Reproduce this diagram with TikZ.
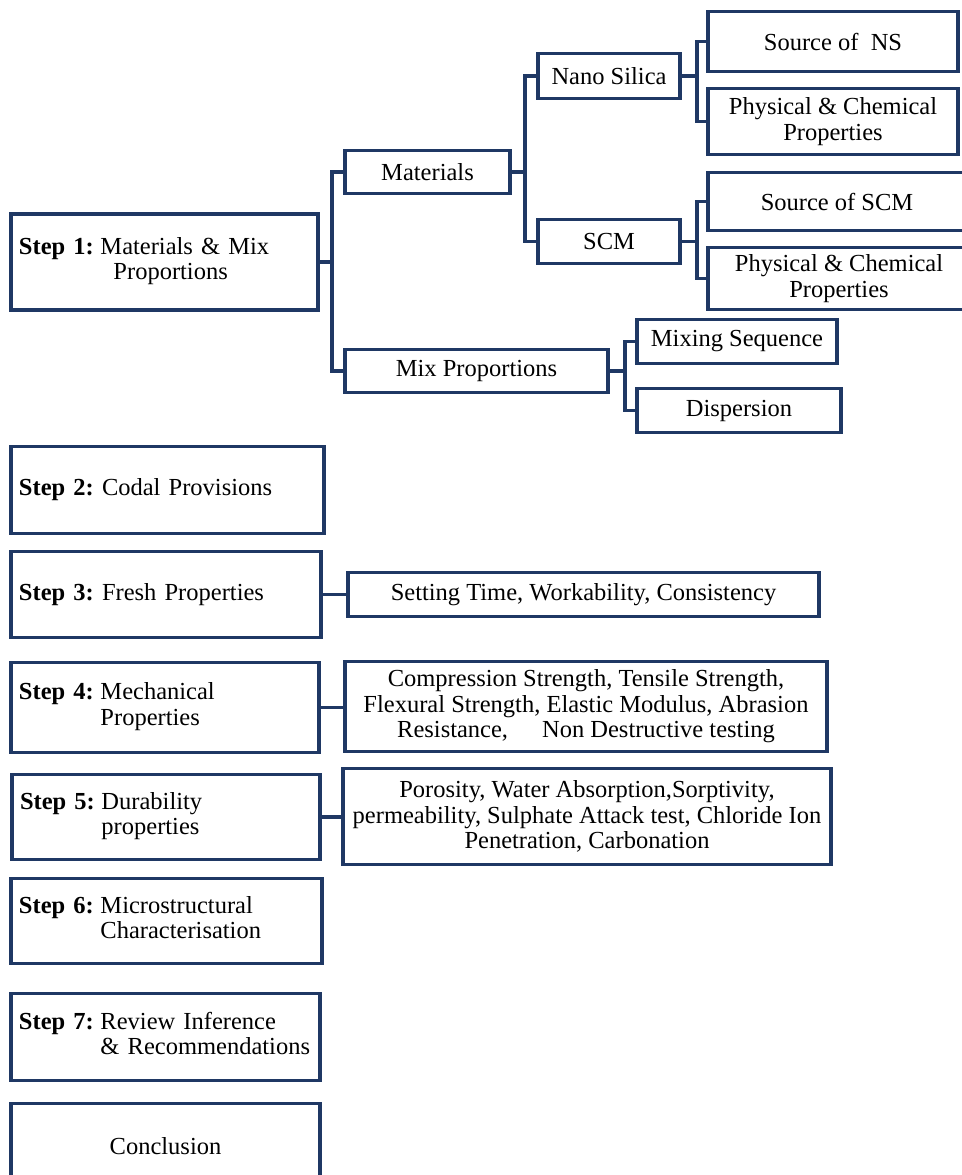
\documentclass[tikz,border=0pt]{standalone}
\usepackage{fontspec}
\setmainfont{Liberation Serif}
\usetikzlibrary{positioning}

\definecolor{boxblue}{HTML}{1F3864}
\tikzset{
  box/.style={draw=boxblue, line width=3.5pt, rectangle, align=center, inner sep=2pt},
  stepbox/.style={box, align=left, inner xsep=8pt},
  link/.style={draw=boxblue, line width=3.5pt},
}
\newcommand{\steplabel}[3]{\begin{tabular}{@{}l@{\hspace{0.27em}}l@{}}\textbf{Step #1:}&#2\\&#3\end{tabular}}

\begin{document}
\begin{tikzpicture}[x=1pt, y=-1pt, font=\fontsize{24.5}{25.5}\selectfont]
  \useasboundingbox (0,0) rectangle (961,1175);

  % step 1 tree
  \node[stepbox, minimum width=307, text width=291, minimum height=96] (step1) at (164.5,262)
    {\steplabel{1}{Materials \& Mix}{\hspace*{13pt}Proportions}};
  \node[box, minimum width=165, minimum height=43] (mat) at (427.5,172) {Materials};
  \node[box, minimum width=263, minimum height=43] (mix) at (476.5,371) {Mix Proportions};
  \node[box, minimum width=142, minimum height=45] (nano) at (609,76) {Nano Silica};
  \node[box, minimum width=142, minimum height=44] (scm) at (609,241.5) {SCM};
  \node[box, minimum width=250, minimum height=60] (srcns) at (833,41.5) {Source of~~NS};
  \node[box, minimum width=250, minimum height=66] (pcns) at (833,121.5) {Physical \& Chemical\\Properties};
  \node[box, minimum width=258, minimum height=58] (srcscm) at (837,201.5) {Source of SCM};
  \node[box, minimum width=262, minimum height=62] (pcscm) at (839,278.5) {Physical \& Chemical\\Properties};
  \node[box, minimum width=200, minimum height=44] (mixseq) at (737,341.5) {Mixing Sequence};
  \node[box, minimum width=204, minimum height=44] (disp) at (739,410.5) {Dispersion};

  \draw[link] (step1.east) -- ++(12,0) |- (mat.west);
  \draw[link] (step1.east) -- ++(12,0) |- (mix.west);
  \draw[link] (mat.east) -- ++(13,0) |- (nano.west);
  \draw[link] (mat.east) -- ++(13,0) |- (scm.west);
  \draw[link] (nano.east) -- ++(15,0) |- (srcns.west);
  \draw[link] (nano.east) -- ++(15,0) |- (pcns.west);
  \draw[link] (scm.east) -- ++(15,0) |- (srcscm.west);
  \draw[link] (scm.east) -- ++(15,0) |- (pcscm.west);
  \draw[link] (mix.east) -- ++(15,0) |- (mixseq.west);
  \draw[link] (mix.east) -- ++(15,0) |- (disp.west);

  % steps 2 to 7
  \node[stepbox, minimum width=313, text width=297, minimum height=87] (step2) at (167.5,490)
    {\textbf{Step 2:}\ Codal Provisions};
  \node[stepbox, minimum width=310, text width=294, minimum height=86] (step3) at (166,594.5)
    {\textbf{Step 3:}\ Fresh Properties};
  \node[box, minimum width=471, minimum height=44] (fresh) at (583.5,594.5)
    {Setting Time, Workability, Consistency};
  \node[stepbox, minimum width=308, text width=292, minimum height=90] (step4) at (165,707.5)
    {\steplabel{4}{Mechanical}{Properties}};
  \node[box, minimum width=482, minimum height=90] (mech) at (586,706.5)
    {Compression Strength, Tensile Strength,\\Flexural Strength, Elastic Modulus, Abrasion\\Resistance,\hspace{34pt}Non Destructive testing};
  \node[stepbox, minimum width=308, text width=292, minimum height=85] (step5) at (166,817)
    {\steplabel{5}{Durability}{properties}};
  \node[box, minimum width=488, minimum height=96] (dur) at (587,816.5)
    {Porosity, Water Absorption,Sorptivity,\\permeability, Sulphate Attack test, Chloride Ion\\Penetration, Carbonation};
  \node[stepbox, minimum width=311, text width=295, minimum height=85] (step6) at (166.5,921)
    {\steplabel{6}{Microstructural}{Characterisation}};
  \node[stepbox, minimum width=309, text width=293, minimum height=87] (step7) at (165.5,1037)
    {\steplabel{7}{Review Inference}{\& Recommendations}};
  \node[box, minimum width=309, minimum height=86] (concl) at (165.5,1146.5) {Conclusion};

  \draw[link] (step3.east) -- (fresh.west);
  \draw[link] (step4.east) -- (step4.east -| mech.west);
  \draw[link] (step5.east) -- (step5.east -| dur.west);
\end{tikzpicture}
\end{document}
